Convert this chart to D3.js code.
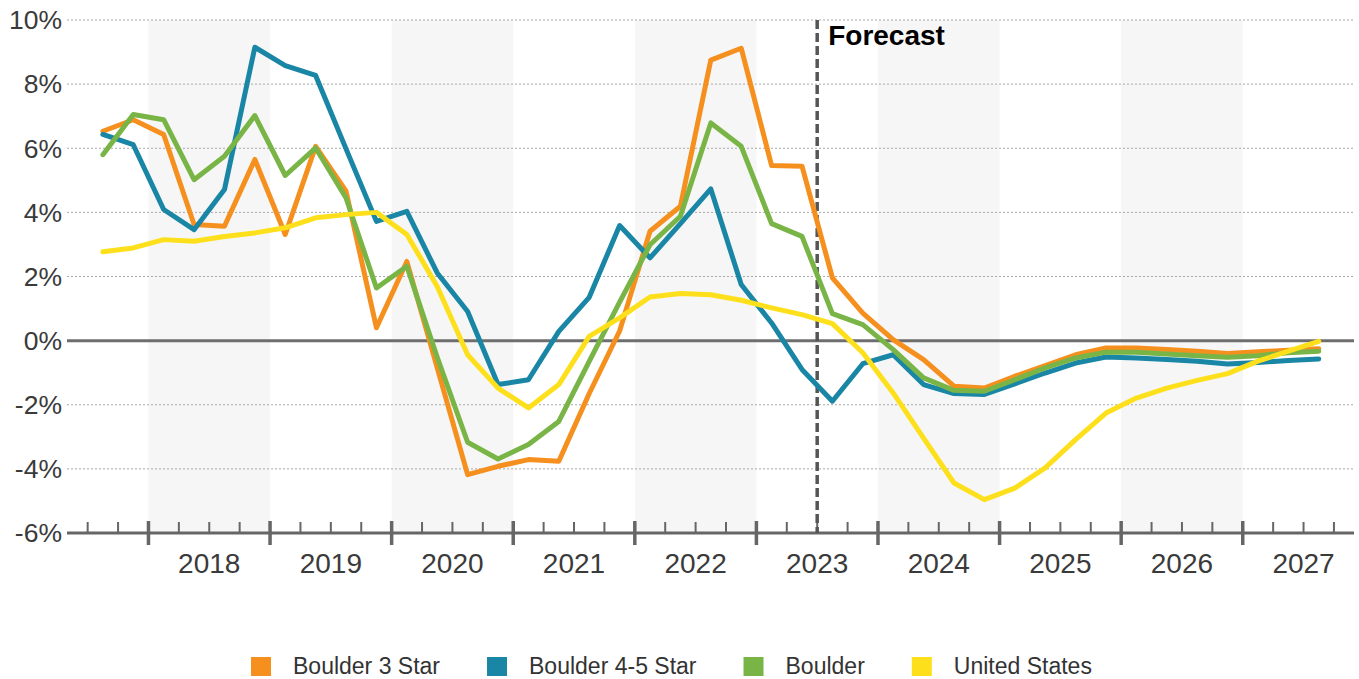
<!DOCTYPE html>
<html>
<head>
<meta charset="utf-8">
<script src="https://cdn.jsdelivr.net/npm/d3@7"></script>
<style>
  html, body { margin: 0; padding: 0; background: #fff; }
  svg { display: block; font-family: "Liberation Sans", Arial, sans-serif; }
</style>
</head>
<body>
<svg id="chart" width="1359" height="679"></svg>
<script>
// Quarterly year-over-year change, 2017 Q3 – 2027 Q3
const quarters = [
  "2017Q3","2017Q4",
  "2018Q1","2018Q2","2018Q3","2018Q4",
  "2019Q1","2019Q2","2019Q3","2019Q4",
  "2020Q1","2020Q2","2020Q3","2020Q4",
  "2021Q1","2021Q2","2021Q3","2021Q4",
  "2022Q1","2022Q2","2022Q3","2022Q4",
  "2023Q1","2023Q2","2023Q3","2023Q4",
  "2024Q1","2024Q2","2024Q3","2024Q4",
  "2025Q1","2025Q2","2025Q3","2025Q4",
  "2026Q1","2026Q2","2026Q3","2026Q4",
  "2027Q1","2027Q2","2027Q3"
];

const boulder3Star = [
  6.53, 6.89,
  6.43, 3.62, 3.57, 5.65,
  3.31, 6.06, 4.66, 0.40,
  2.47, -0.85, -4.18, -3.92,
  -3.71, -3.76, -1.65, 0.30,
  3.41, 4.19, 8.75, 9.12,
  5.46, 5.44, 1.96, 0.86,
  0.03, -0.59, -1.42, -1.48,
  -1.11, -0.78, -0.44, -0.23,
  -0.23, -0.28, -0.33, -0.40,
  -0.35, -0.30, -0.25
];

const boulder45Star = [
  6.43, 6.11,
  4.09, 3.46, 4.71, 9.15,
  8.58, 8.27, 5.98, 3.72,
  4.03, 2.11, 0.91, -1.37,
  -1.22, 0.29, 1.35, 3.59,
  2.58, 3.65, 4.73, 1.75,
  0.55, -0.90, -1.89, -0.72,
  -0.44, -1.37, -1.65, -1.68,
  -1.35, -1.01, -0.70, -0.51,
  -0.54, -0.59, -0.64, -0.73,
  -0.68, -0.62, -0.57
];

const boulderAll = [
  5.80, 7.05,
  6.89, 5.02, 5.75, 7.02,
  5.15, 6.01, 4.45, 1.64,
  2.32, -0.52, -3.17, -3.69,
  -3.24, -2.52, -0.65, 1.20,
  2.99, 3.88, 6.79, 6.06,
  3.65, 3.25, 0.84, 0.50,
  -0.28, -1.16, -1.55, -1.58,
  -1.22, -0.85, -0.54, -0.36,
  -0.36, -0.42, -0.47, -0.52,
  -0.47, -0.38, -0.33
];

const unitedStates = [
  2.77, 2.89,
  3.15, 3.10, 3.25, 3.36,
  3.52, 3.83, 3.93, 4.00,
  3.31, 1.69, -0.44, -1.48,
  -2.10, -1.37, 0.13, 0.71,
  1.36, 1.47, 1.43, 1.26,
  1.02, 0.81, 0.53, -0.38,
  -1.63, -3.04, -4.44, -4.96,
  -4.60, -3.97, -3.09, -2.26,
  -1.79, -1.48, -1.24, -1.03,
  -0.64, -0.33, -0.02
];

const yearLabels = [2018, 2019, 2020, 2021, 2022, 2023, 2024, 2025, 2026, 2027];
const shadedYears = [2018, 2020, 2022, 2024, 2026];
const yTicks = [-6, -4, -2, 0, 2, 4, 6, 8, 10];
const forecastStart = 2023.5;
const forecastLabel = "Forecast";

const seriesNames = ["Boulder 3 Star", "Boulder 4-5 Star", "Boulder", "United States"];
const seriesColors = ["#F5901F", "#1A86A6", "#79B546", "#FDE01B"];
const seriesValues = [boulder3Star, boulder45Star, boulderAll, unitedStates];

// quarter string -> fractional year at the middle of the quarter
const qMid = q => +q.slice(0, 4) + (+q.slice(5) - 1) / 4 + 0.125;

const svg = d3.select("#chart");
const plotLeft = 67, plotRight = 1354, plotTop = 20, plotBottom = 533;

const x = d3.scaleLinear().domain([2017.33, 2027.915]).range([plotLeft, plotRight]);
const y = d3.scaleLinear().domain([-6, 10]).range([plotBottom, plotTop]);

// alternating year bands
svg.append("g").selectAll("rect")
  .data(shadedYears)
  .join("rect")
  .attr("x", d => x(d))
  .attr("y", plotTop)
  .attr("width", d => x(d + 1) - x(d))
  .attr("height", plotBottom - plotTop)
  .attr("fill", "#f6f6f6");

// horizontal grid
svg.append("g").selectAll("line")
  .data(yTicks.filter(t => t !== 0 && t !== -6))
  .join("line")
  .attr("x1", plotLeft).attr("x2", plotRight)
  .attr("y1", d => y(d)).attr("y2", d => y(d))
  .attr("stroke", "#a9a9a9")
  .attr("stroke-width", 1)
  .attr("stroke-dasharray", "2,2");

// y tick labels
svg.append("g").selectAll("text")
  .data(yTicks)
  .join("text")
  .attr("x", 62)
  .attr("y", d => y(d))
  .attr("dy", "0.35em")
  .attr("text-anchor", "end")
  .attr("font-size", 26.5)
  .attr("fill", "#3a3a3a")
  .text(d => d + "%");

// zero line
svg.append("line")
  .attr("x1", plotLeft).attr("x2", plotRight)
  .attr("y1", y(0)).attr("y2", y(0))
  .attr("stroke", "#6e6e6e")
  .attr("stroke-width", 3);

// bottom axis: quarter ticks (minor) and year ticks (major)
const quarterStarts = d3.range(2017.5, 2027.76, 0.25);
const axis = svg.append("g");
axis.append("line")
  .attr("x1", plotLeft).attr("x2", plotRight)
  .attr("y1", plotBottom).attr("y2", plotBottom)
  .attr("stroke", "#666")
  .attr("stroke-width", 3);
axis.selectAll("line.minor")
  .data(quarterStarts.filter(q => Math.abs(q - Math.round(q)) > 1e-6))
  .join("line")
  .attr("class", "minor")
  .attr("x1", d => x(d)).attr("x2", d => x(d))
  .attr("y1", plotBottom - 11).attr("y2", plotBottom)
  .attr("stroke", "#666")
  .attr("stroke-width", 2);
axis.selectAll("line.major")
  .data(yearLabels)
  .join("line")
  .attr("class", "major")
  .attr("x1", d => x(d)).attr("x2", d => x(d))
  .attr("y1", plotBottom - 12).attr("y2", plotBottom + 12)
  .attr("stroke", "#666")
  .attr("stroke-width", 3.5);
axis.selectAll("text")
  .data(yearLabels)
  .join("text")
  .attr("x", d => x(d + 0.5))
  .attr("y", 573)
  .attr("text-anchor", "middle")
  .attr("font-size", 28)
  .attr("fill", "#3a3a3a")
  .text(d => d);

// forecast divider
svg.append("line")
  .attr("x1", x(forecastStart)).attr("x2", x(forecastStart))
  .attr("y1", plotTop).attr("y2", plotBottom)
  .attr("stroke", "#555")
  .attr("stroke-width", 3.5)
  .attr("stroke-dasharray", "9,4");
svg.append("text")
  .attr("x", x(forecastStart) + 11)
  .attr("y", 45)
  .attr("font-size", 28)
  .attr("font-weight", "bold")
  .attr("fill", "#000")
  .text(forecastLabel);

// series lines
const line = d3.line()
  .x((d, i) => x(qMid(quarters[i])))
  .y(d => y(d));

svg.append("g").selectAll("path")
  .data(seriesValues)
  .join("path")
  .attr("d", d => line(d))
  .attr("fill", "none")
  .attr("stroke", (d, i) => seriesColors[i])
  .attr("stroke-width", 5)
  .attr("stroke-linejoin", "round")
  .attr("stroke-linecap", "round");

// legend
const legend = svg.append("g");
let lx = 251;
seriesNames.forEach((name, i) => {
  legend.append("rect")
    .attr("x", lx).attr("y", 657)
    .attr("width", 20).attr("height", 19)
    .attr("fill", seriesColors[i]);
  const t = legend.append("text")
    .attr("x", lx + 42).attr("y", 674)
    .attr("font-size", 23)
    .attr("fill", "#333")
    .text(name);
  lx += 42 + t.node().getComputedTextLength() + 47;
});
</script>
</body>
</html>
